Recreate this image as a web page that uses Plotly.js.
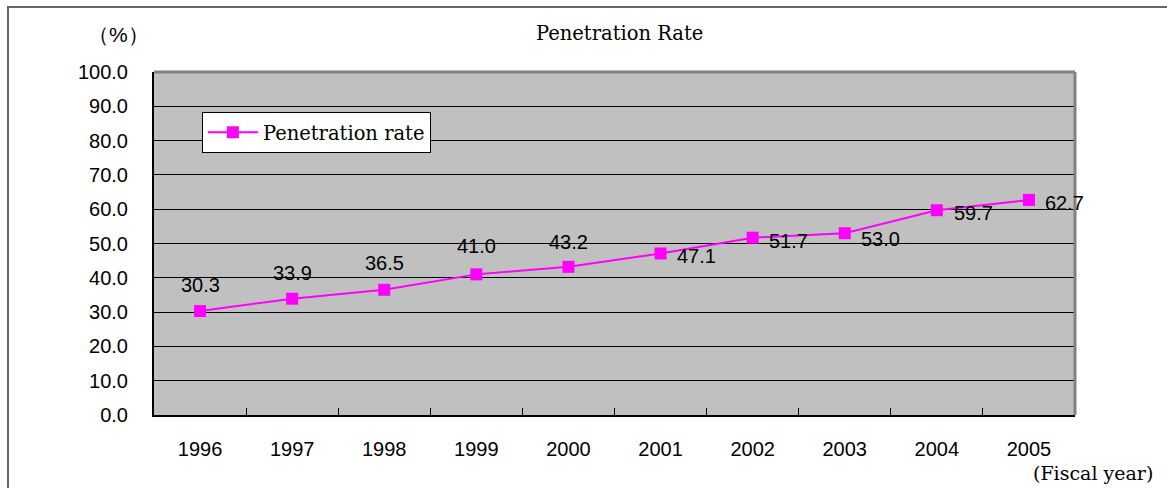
<!DOCTYPE html>
<html>
<head>
<meta charset="utf-8">
<script src="https://cdn.plot.ly/plotly-3.0.1.min.js"></script>
<style>
html,body{margin:0;padding:0;background:#fff;}
#wrap{position:relative;width:1167px;height:488px;}
#chart{width:1167px;height:488px;}
#frame{position:absolute;left:7px;top:6px;width:1160px;height:482px;border-left:2px solid #666;border-top:2px solid #666;pointer-events:none;}
</style>
</head>
<body>
<div id="wrap"><div id="chart"></div><div id="frame"></div></div>
<script>
const years = ['1996','1997','1998','1999','2000','2001','2002','2003','2004','2005'];
const rates = [30.3, 33.9, 36.5, 41.0, 43.2, 47.1, 51.7, 53.0, 59.7, 62.7];
const yTicks = [0,10,20,30,40,50,60,70,80,90,100];
const yTickText = yTicks.map(v => v.toFixed(1));
const seriesName = 'Penetration rate';
const titleText = 'Penetration Rate';
const yUnit = '（%）';
const xUnit = '(Fiscal year)';

// label offsets (px) for each data label
const labelDx = [0,0,0,0,0,36,36,36,37,36];
const labelDy = [26,26,27,28,25,-3,-3,-6,-3,-3];

const sansFont = 'Liberation Sans, Arial, sans-serif';
const serifFont = 'DejaVu Serif, Liberation Serif, serif';

const annotations = years.map((y,i)=>({
  x: i, y: rates[i], xref:'x', yref:'y', xanchor:'center', yanchor:'middle',
  text: rates[i].toFixed(1), showarrow:false,
  xshift: labelDx[i], yshift: labelDy[i],
  font:{family:sansFont, size:20, color:'#000'}
}));
annotations.push({xref:'paper', yref:'paper', x:-0.039, y:1.108, xanchor:'center', yanchor:'middle', text:yUnit, showarrow:false,
  font:{family:sansFont, size:21, color:'#000'}});
annotations.push({xref:'paper', yref:'paper', x:1.0195, y:-0.169, xanchor:'center', yanchor:'middle', text:xUnit, showarrow:false,
  font:{family:serifFont, size:19, color:'#000'}});

const trace = {
  x: years, y: rates, type:'scatter', mode:'lines+markers', name: seriesName,
  line:{color:'#FF00FF', width:2},
  marker:{symbol:'square', size:12, color:'#FF00FF'},
  cliponaxis:false
};

const layout = {
  width:1167, height:488,
  margin:{l:154, r:92, t:72, b:73, pad:0},
  paper_bgcolor:'#ffffff', plot_bgcolor:'#C0C0C0',
  title:{text:titleText, xref:'container', yref:'container', x:0.531, y:0.932, xanchor:'center', yanchor:'middle',
    font:{family:serifFont, size:19.5, color:'#000'}},
  showlegend:true,
  legend:{x:0.052, y:0.883, xanchor:'left', yanchor:'top', bgcolor:'#ffffff', bordercolor:'#000', borderwidth:1,
    tracegroupgap:0, itemwidth:50,
    font:{family:serifFont, size:19.5, color:'#000'}},
  xaxis:{type:'category', range:[-0.5,9.5], tickson:'boundaries', ticks:'inside', ticklen:7, tickcolor:'#000',
    showgrid:false, showline:true, linecolor:'#000', linewidth:2, zeroline:false,
    ticklabelstandoff:15,
    tickfont:{family:sansFont, size:20, color:'#000'}},
  yaxis:{range:[0,100], tickvals:yTicks, ticktext:yTickText, ticks:'inside', ticklen:7, tickcolor:'#000',
    showgrid:true, gridcolor:'#000', gridwidth:1, showline:true, linecolor:'#000', linewidth:2, zeroline:false,
    ticklabelstandoff:20,
    tickfont:{family:sansFont, size:20, color:'#000'}},
  shapes:[
    {type:'line', xref:'paper', yref:'paper', x0:0, x1:1, y0:1, y1:1, line:{color:'#808080', width:3}},
    {type:'line', xref:'paper', yref:'paper', x0:1, x1:1, y0:0, y1:1, line:{color:'#808080', width:3}}
  ],
  annotations: annotations
};

Plotly.newPlot('chart', [trace], layout, {displayModeBar:false, staticPlot:true});
</script>
</body>
</html>
